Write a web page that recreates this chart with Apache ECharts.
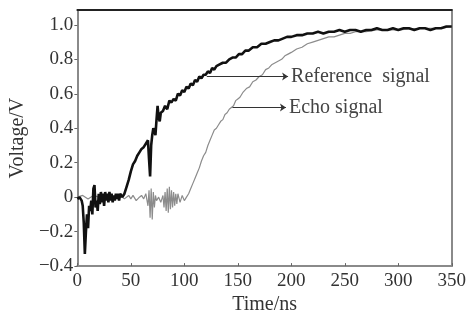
<!DOCTYPE html>
<html><head><meta charset="utf-8">
<script src="https://cdn.jsdelivr.net/npm/echarts@6/dist/echarts.min.js"></script>
<style>html,body{margin:0;padding:0;background:#fff}#c{width:469px;height:320px}</style>
</head><body><div id="c"></div>
<script>
// Reference signal [time ns, voltage V]
var refTime = [0,2,4,5,6,7,8,9,10,11,12,13,14,15,16,17,18,19,20,21,22,23,24,25,26,27,28,29,30,31,32,33,34,35,36,37,38,39,40,42,44,46,48,50,52,54,56,58,60,62,64,66,67,68,69,70,71,72,73,74,75,76,77,78,80,82,84,86,88,90,92,94,96,98,100,102,104,106,108,110,112,114,116,118,120,122,124,126,128,130,133,136,139,142,145,148,151,154,157,160,164,168,172,176,180,184,188,192,196,200,205,210,215,220,225,230,235,240,245,250,255,260,265,270,275,280,285,290,295,300,305,310,315,320,325,330,335,340,345,350];
var refVolt = [-0.01,0.0,-0.02,-0.05,-0.15,-0.33,-0.20,-0.10,-0.18,-0.05,-0.08,-0.02,-0.10,0.05,0.07,-0.06,-0.02,-0.08,0.02,-0.04,0.03,-0.03,0.02,-0.05,0.03,-0.02,0.02,-0.03,0.03,-0.02,0.02,-0.03,0.01,-0.02,0.02,-0.01,0.02,-0.02,0.02,0.0,0.02,0.06,0.10,0.15,0.19,0.21,0.24,0.26,0.28,0.29,0.31,0.33,0.22,0.12,0.30,0.36,0.40,0.38,0.36,0.45,0.53,0.46,0.44,0.49,0.50,0.53,0.51,0.56,0.55,0.57,0.56,0.60,0.59,0.62,0.61,0.64,0.63,0.66,0.65,0.68,0.67,0.70,0.69,0.71,0.71,0.73,0.72,0.75,0.74,0.76,0.77,0.78,0.78,0.80,0.81,0.81,0.83,0.83,0.85,0.85,0.87,0.87,0.89,0.89,0.90,0.91,0.91,0.92,0.93,0.93,0.94,0.94,0.95,0.95,0.96,0.95,0.96,0.96,0.97,0.96,0.97,0.97,0.96,0.97,0.97,0.98,0.97,0.97,0.98,0.97,0.98,0.98,0.97,0.98,0.98,0.97,0.98,0.98,0.99,0.99];
// Echo signal [time ns, voltage V]
var echoTime = [0,5,10,15,20,25,30,35,40,44,48,50,52,55,58,60,62,64,66,67,68,69,70,71,72,73,74,76,78,80,81,82,83,84,85,86,87,88,89,90,91,92,93,94,96,98,100,102,104,106,108,110,112,114,116,118,120,122,124,126,128,130,132,134,136,138,140,142,144,146,148,150,152,155,158,161,164,167,170,173,176,179,182,185,188,191,194,197,200,205,210,215,220,225,230,235,240,245,250,255,260,270,280,290,300,320,340,350];
var echoVolt = [0,0.01,-0.01,0.01,0,-0.01,0.01,0,0.01,-0.01,0.01,-0.01,0.01,-0.02,0.0,0.01,-0.01,0.02,-0.05,0.04,-0.12,0.05,-0.13,0.03,-0.06,0.01,-0.02,0.0,-0.03,0.01,-0.06,0.03,-0.08,0.05,-0.09,0.06,-0.07,0.04,-0.06,0.03,-0.05,0.02,-0.04,0.02,-0.03,0.01,-0.02,0.0,0.02,0.05,0.08,0.11,0.14,0.17,0.21,0.24,0.26,0.30,0.33,0.36,0.39,0.40,0.42,0.44,0.45,0.48,0.49,0.51,0.52,0.53,0.56,0.57,0.58,0.61,0.63,0.64,0.67,0.68,0.70,0.71,0.74,0.75,0.77,0.78,0.79,0.80,0.82,0.83,0.84,0.86,0.87,0.89,0.90,0.91,0.92,0.93,0.93,0.94,0.95,0.95,0.96,0.96,0.97,0.97,0.97,0.98,0.98,0.99];
var xTicks = [0,50,100,150,200,250,300,350];
var yTicks = [-0.4,-0.2,0,0.2,0.4,0.6,0.8,1.0];
var labels = {ref: 'Reference  signal', echo: 'Echo signal'};
var refArrow = [[121,0.70],[197,0.70]];
var echoArrow = [[145,0.52],[195,0.52]];

function zip(a,b){return a.map(function(v,i){return [v,b[i]];});}
var font = 'Liberation Serif';
var chart = echarts.init(document.getElementById('c'));
chart.setOption({
  animation:false,
  backgroundColor:'#fff',
  grid:{left:71,right:16,top:10,bottom:51},
  xAxis:[{
    type:'value',min:xTicks[0],max:xTicks[xTicks.length-1],interval:50,
    name:'Time/ns',nameLocation:'middle',nameGap:24,
    nameTextStyle:{fontFamily:font,fontSize:20,color:'#333'},
    axisLine:{onZero:false,lineStyle:{color:'#8a8a8a',width:2}},
    axisTick:{inside:true,length:3,lineStyle:{color:'#666'}},
    axisLabel:{fontFamily:font,fontSize:19,color:'#333',margin:5},
    splitLine:{show:false}
  },{
    type:'value',position:'top',min:0,max:350,
    axisLine:{show:true,onZero:false,lineStyle:{color:'#222',width:2}},
    axisTick:{show:false},axisLabel:{show:false},splitLine:{show:false}
  }],
  yAxis:[{
    type:'value',min:yTicks[0],max:1.086,interval:0.2,
    name:'Voltage/V',nameLocation:'middle',nameGap:46,
    nameTextStyle:{fontFamily:font,fontSize:20,color:'#333'},
    axisLine:{show:true,onZero:false,lineStyle:{color:'#8a8a8a',width:2}},
    axisTick:{length:3,lineStyle:{color:'#666'}},
    axisLabel:{fontFamily:font,fontSize:19,color:'#333',margin:4,showMaxLabel:false,
      formatter:function(v){
        var ok = yTicks.some(function(t){return Math.abs(t-v)<1e-6;});
        if(!ok) return '';
        if(Math.abs(v)<1e-9) return '0';
        return v.toFixed(1).replace('-','\u2212');
      }},
    splitLine:{show:false}
  },{
    type:'value',position:'right',min:-0.4,max:1.086,
    axisLine:{show:true,onZero:false,lineStyle:{color:'#8a8a8a',width:2}},
    axisTick:{show:false},axisLabel:{show:false},splitLine:{show:false}
  }],
  series:[{
    name:'Echo signal',type:'line',data:zip(echoTime,echoVolt),
    showSymbol:false,lineStyle:{color:'#8c8c8c',width:1.2},z:2,
    markLine:{silent:true,symbol:['none','arrow'],symbolSize:6,
      lineStyle:{color:'#333',width:1,type:'solid'},
      label:{show:true,position:'end',formatter:labels.echo,fontFamily:font,fontSize:20,color:'#444',distance:3},
      data:[[{coord:echoArrow[0]},{coord:echoArrow[1]}]]}
  },{
    name:'Reference signal',type:'line',data:zip(refTime,refVolt),
    showSymbol:false,lineStyle:{color:'#111',width:2.6},z:3,
    markLine:{silent:true,symbol:['none','arrow'],symbolSize:6,
      lineStyle:{color:'#333',width:1,type:'solid'},
      label:{show:true,position:'end',formatter:labels.ref,fontFamily:font,fontSize:20,color:'#444',distance:3},
      data:[[{coord:refArrow[0]},{coord:refArrow[1]}]]}
  }]
});
</script></body></html>
